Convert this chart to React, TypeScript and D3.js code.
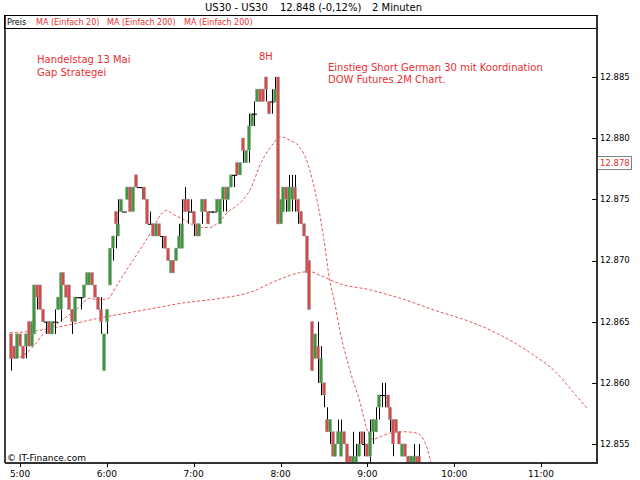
import React from 'react';
import * as d3 from 'd3';

// [time, open, high, low, close]
const bars: [string, number, number, number, number][] = [
  ["4:54",12.864,12.864,12.861,12.862],
  ["4:56",12.863,12.863,12.862,12.862],
  ["4:58",12.862,12.864,12.862,12.864],
  ["5:00",12.864,12.864,12.863,12.863],
  ["5:02",12.863,12.863,12.862,12.862],
  ["5:04",12.863,12.864,12.862,12.864],
  ["5:06",12.865,12.865,12.863,12.863],
  ["5:08",12.863,12.865,12.863,12.865],
  ["5:10",12.864,12.868,12.864,12.868],
  ["5:12",12.868,12.868,12.866,12.867],
  ["5:14",12.868,12.868,12.866,12.866],
  ["5:16",12.866,12.866,12.865,12.865],
  ["5:18",12.865,12.865,12.864,12.865],
  ["5:20",12.865,12.865,12.864,12.864],
  ["5:22",12.864,12.865,12.864,12.865],
  ["5:24",12.865,12.866,12.864,12.865],
  ["5:26",12.866,12.867,12.866,12.867],
  ["5:28",12.866,12.869,12.865,12.869],
  ["5:30",12.869,12.869,12.868,12.868],
  ["5:32",12.868,12.868,12.867,12.867],
  ["5:34",12.868,12.868,12.866,12.866],
  ["5:36",12.866,12.866,12.864,12.865],
  ["5:38",12.865,12.867,12.865,12.867],
  ["5:40",12.867,12.867,12.867,12.867],
  ["5:42",12.867,12.867,12.866,12.867],
  ["5:44",12.867,12.868,12.867,12.868],
  ["5:46",12.868,12.869,12.868,12.869],
  ["5:48",12.868,12.869,12.868,12.869],
  ["5:50",12.869,12.869,12.868,12.868],
  ["5:52",12.868,12.868,12.867,12.867],
  ["5:54",12.867,12.867,12.866,12.866],
  ["5:56",12.866,12.867,12.864,12.865],
  ["5:58",12.861,12.864,12.861,12.864],
  ["6:00",12.865,12.866,12.864,12.866],
  ["6:02",12.868,12.871,12.868,12.871],
  ["6:04",12.871,12.872,12.870,12.872],
  ["6:06",12.874,12.874,12.871,12.873],
  ["6:08",12.872,12.875,12.872,12.873],
  ["6:10",12.874,12.875,12.874,12.875],
  ["6:12",12.874,12.874,12.874,12.874],
  ["6:14",12.875,12.876,12.875,12.876],
  ["6:16",12.876,12.876,12.874,12.874],
  ["6:18",12.874,12.876,12.874,12.876],
  ["6:20",12.877,12.877,12.876,12.876],
  ["6:22",12.876,12.876,12.876,12.876],
  ["6:24",12.876,12.876,12.875,12.876],
  ["6:26",12.876,12.876,12.875,12.875],
  ["6:28",12.875,12.875,12.873,12.873],
  ["6:30",12.873,12.874,12.873,12.873],
  ["6:32",12.873,12.873,12.872,12.872],
  ["6:34",12.872,12.873,12.872,12.873],
  ["6:36",12.873,12.873,12.872,12.872],
  ["6:38",12.872,12.872,12.871,12.872],
  ["6:40",12.872,12.872,12.871,12.871],
  ["6:42",12.871,12.871,12.870,12.870],
  ["6:44",12.869,12.870,12.869,12.870],
  ["6:46",12.870,12.870,12.869,12.869],
  ["6:48",12.870,12.871,12.870,12.871],
  ["6:50",12.871,12.873,12.871,12.872],
  ["6:52",12.871,12.875,12.871,12.873],
  ["6:54",12.875,12.876,12.874,12.874],
  ["6:56",12.875,12.875,12.873,12.874],
  ["6:58",12.874,12.875,12.874,12.874],
  ["7:00",12.874,12.874,12.872,12.873],
  ["7:02",12.873,12.873,12.872,12.872],
  ["7:04",12.872,12.873,12.872,12.873],
  ["7:06",12.874,12.875,12.873,12.875],
  ["7:08",12.875,12.875,12.874,12.874],
  ["7:10",12.874,12.874,12.873,12.873],
  ["7:12",12.874,12.874,12.874,12.874],
  ["7:14",12.874,12.874,12.874,12.874],
  ["7:16",12.874,12.875,12.874,12.875],
  ["7:18",12.873,12.875,12.873,12.875],
  ["7:20",12.875,12.876,12.874,12.876],
  ["7:22",12.876,12.876,12.874,12.875],
  ["7:24",12.875,12.876,12.875,12.876],
  ["7:26",12.876,12.877,12.876,12.877],
  ["7:28",12.877,12.877,12.876,12.877],
  ["7:30",12.878,12.878,12.877,12.877],
  ["7:32",12.877,12.878,12.877,12.878],
  ["7:34",12.880,12.880,12.878,12.879],
  ["7:36",12.878,12.879,12.878,12.879],
  ["7:38",12.879,12.882,12.878,12.881],
  ["7:40",12.881,12.882,12.881,12.882],
  ["7:42",12.882,12.883,12.881,12.882],
  ["7:44",12.883,12.884,12.883,12.884],
  ["7:46",12.884,12.884,12.883,12.883],
  ["7:48",12.884,12.884,12.883,12.883],
  ["7:50",12.885,12.885,12.883,12.884],
  ["7:52",12.883,12.883,12.882,12.882],
  ["7:54",12.883,12.884,12.882,12.883],
  ["7:56",12.883,12.885,12.883,12.884],
  ["7:58",12.885,12.885,12.873,12.873],
  ["8:00",12.873,12.875,12.873,12.875],
  ["8:02",12.874,12.876,12.874,12.876],
  ["8:04",12.876,12.876,12.874,12.875],
  ["8:06",12.874,12.877,12.874,12.876],
  ["8:08",12.875,12.877,12.874,12.876],
  ["8:10",12.876,12.877,12.874,12.875],
  ["8:12",12.875,12.875,12.873,12.874],
  ["8:14",12.874,12.874,12.873,12.873],
  ["8:16",12.873,12.873,12.872,12.872],
  ["8:18",12.872,12.872,12.869,12.869],
  ["8:20",12.870,12.870,12.866,12.866],
  ["8:22",12.865,12.865,12.861,12.861],
  ["8:24",12.862,12.864,12.862,12.864],
  ["8:26",12.863,12.865,12.860,12.862],
  ["8:28",12.860,12.863,12.859,12.862],
  ["8:30",12.860,12.860,12.858,12.859],
  ["8:32",12.857,12.858,12.856,12.856],
  ["8:34",12.856,12.857,12.855,12.857],
  ["8:36",12.856,12.856,12.854,12.854],
  ["8:38",12.854,12.855,12.854,12.855],
  ["8:40",12.855,12.857,12.855,12.856],
  ["8:42",12.854,12.857,12.854,12.856],
  ["8:44",12.856,12.856,12.855,12.855],
  ["8:46",12.855,12.855,12.853,12.853],
  ["8:48",12.854,12.854,12.853,12.853],
  ["8:50",12.853,12.856,12.853,12.854],
  ["8:52",12.853,12.855,12.853,12.854],
  ["8:54",12.854,12.856,12.854,12.855],
  ["8:56",12.856,12.856,12.855,12.855],
  ["8:58",12.855,12.856,12.854,12.855],
  ["9:00",12.855,12.855,12.854,12.854],
  ["9:02",12.854,12.857,12.853,12.856],
  ["9:04",12.856,12.857,12.855,12.857],
  ["9:06",12.856,12.858,12.856,12.857],
  ["9:08",12.858,12.859,12.857,12.859],
  ["9:10",12.859,12.860,12.858,12.859],
  ["9:12",12.859,12.860,12.858,12.859],
  ["9:14",12.859,12.859,12.858,12.858],
  ["9:16",12.858,12.858,12.856,12.857],
  ["9:18",12.857,12.857,12.854,12.855],
  ["9:20",12.857,12.857,12.856,12.856],
  ["9:22",12.856,12.856,12.855,12.855],
  ["9:24",12.854,12.855,12.854,12.855],
  ["9:26",12.855,12.855,12.854,12.854],
  ["9:28",12.854,12.854,12.853,12.853],
  ["9:30",12.853,12.854,12.853,12.854],
  ["9:32",12.853,12.855,12.853,12.854],
  ["9:34",12.854,12.854,12.853,12.853],
  ["9:36",12.854,12.855,12.853,12.853],
];

const ma20: [string, number][] = [
  ["4:53",12.8620],["5:00",12.8621],["5:05",12.8625],["5:10",12.8631],["5:17",12.8641],
  ["5:24",12.8647],["5:31",12.8653],["5:40",12.8661],["5:48",12.8669],["5:55",12.8668],
  ["6:01",12.8669],["6:06",12.8678],["6:13",12.8691],["6:18",12.8700],["6:23",12.8709],
  ["6:30",12.8722],["6:37",12.8737],["6:41",12.8741],["6:47",12.8737],["6:54",12.8733],
  ["7:04",12.8727],["7:11",12.8727],["7:17",12.8731],["7:24",12.8740],["7:30",12.8745],
  ["7:39",12.8758],["7:47",12.8781],["7:54",12.8794],["8:00",12.8801],["8:07",12.8798],
  ["8:13",12.8793],["8:18",12.8782],["8:22",12.8766],["8:26",12.8745],["8:30",12.8717],
  ["8:34",12.8684],["8:37",12.8668],["8:41",12.8643],["8:48",12.8610],["8:55",12.8584],
  ["9:00",12.8561],["9:04",12.8554],["9:09",12.8556],["9:16",12.8559],["9:25",12.8560],
  ["9:34",12.8559],["9:40",12.8551],["9:44",12.8534],
];

const ma200: [string, number][] = [
  ["4:53",12.8641],["5:07",12.8642],["5:28",12.8646],["5:55",12.8653],["6:23",12.8659],
  ["6:37",12.8662],["6:51",12.8665],["7:18",12.8669],["7:39",12.8674],["7:58",12.8684],
  ["8:07",12.8688],["8:13",12.8690],["8:20",12.8691],["8:27",12.8688],["8:41",12.8681],
  ["9:02",12.8676],["9:23",12.8669],["9:50",12.8658],["10:11",12.8650],["10:32",12.8639],
  ["10:52",12.8625],["11:10",12.8609],["11:24",12.8590],["11:32",12.8579],
];

const yTicks = [12.855, 12.86, 12.865, 12.87, 12.875, 12.88, 12.885];
const xTicks = ["5:00", "6:00", "7:00", "8:00", "9:00", "10:00", "11:00"];
const lastPrice = 12.878;
const legendItems = ["MA (Einfach 20)", "MA (Einfach 200)", "MA (Einfach 200)"];

const toMin = (s: string) => {
  const [h, m] = s.split(':').map(Number);
  return h * 60 + m;
};

const FONT = 'DejaVu Sans';
const RED = '#e83030';

export default function App() {
  const L = 5, R = 597, TOP = 16, LEG = 29, BOT = 463;
  const x = d3.scaleLinear().domain([300, 660]).range([20, 541]);
  const y = d3.scaleLinear().domain([12.855, 12.885]).range([444, 77]);
  const line = d3.line<[string, number]>()
    .x(d => x(toMin(d[0])))
    .y(d => y(d[1]))
    .curve(d3.curveMonotoneX);

  return (
    <svg width={640} height={480} style={{ position: 'absolute', left: 0, top: 0, background: '#fff' }}
      fontFamily={FONT}>
      <defs>
        <clipPath id="plot">
          <rect x={L + 1} y={LEG} width={R - L - 2} height={BOT - LEG} />
        </clipPath>
      </defs>
      <rect x={0} y={0} width={640} height={480} fill="#fff" />
      {/* title */}
      <text x={205} y={11} fontSize={10} fill="#000">US30 - US30</text>
      <text x={280} y={11} fontSize={10} fill="#000">12.848 (-0,12%)</text>
      <text x={372} y={11} fontSize={10} fill="#000">2 Minuten</text>

      {/* legend row */}
      <rect x={L - 0.5} y={TOP - 0.5} width={R - L + 1} height={LEG - TOP} fill="none" stroke="#000" />
      <text x={7} y={25} fontSize={8} fill="#000">Preis</text>
      {legendItems.map((t, i) => (
        <text key={i} x={[36, 107, 184][i]} y={25} fontSize={8} fill={RED}>{t}</text>
      ))}

      {/* frame */}
      <line x1={L} y1={TOP} x2={L} y2={BOT} stroke="#000" strokeWidth={1.5} />

      <g clipPath="url(#plot)">
        <path d={line(ma200) || ''} fill="none" stroke="#e85858" strokeWidth={1} strokeDasharray="3,2" />
        <path d={line(ma20) || ''} fill="none" stroke="#e85858" strokeWidth={1} strokeDasharray="3,2" />
        {bars.map(([t, o, h, l, c], i) => {
          const cx = Math.round(x(toMin(t)));
          const yt = y(Math.max(o, c));
          const yb = y(Math.min(o, c));
          const up = c > o;
          const down = c < o;
          return (
            <g key={i}>
              <line x1={cx + 0.5} x2={cx + 0.5} y1={y(h)} y2={y(l)} stroke="#000" strokeWidth={1} />
              {up || down ? (
                <rect x={cx - 1.5} y={yt} width={3} height={Math.max(1, yb - yt)}
                  fill={up ? '#3a9a3a' : '#d84a4a'} stroke="#999" strokeWidth={1} strokeDasharray="1,1" />
              ) : (
                <line x1={cx - 2} x2={cx + 3} y1={yt + 0.5} y2={yt + 0.5} stroke="#000" strokeWidth={1} />
              )}
            </g>
          );
        })}
      </g>

      {/* annotations */}
      <text x={37} y={63} fontSize={10} fill={RED}>Handelstag 13 Mai</text>
      <text x={37} y={76} fontSize={10} fill={RED}>Gap Strategei</text>
      <text x={259} y={60} fontSize={10} fill={RED}>8H</text>
      <text x={328} y={71} fontSize={10} fill={RED}>Einstieg Short German 30 mit Koordination</text>
      <text x={328} y={83} fontSize={10} fill={RED}>DOW Futures 2M Chart.</text>

      {/* axes */}
      <line x1={R} y1={TOP} x2={R} y2={BOT + 1} stroke="#333" strokeWidth={2} />
      <line x1={L} y1={BOT} x2={R} y2={BOT} stroke="#333" strokeWidth={2} />
      {yTicks.map(v => (
        <g key={v}>
          <line x1={R - 5} x2={R} y1={Math.round(y(v)) + 0.5} y2={Math.round(y(v)) + 0.5} stroke="#000" />
          <text x={600} y={y(v)} dy="0.35em" fontSize={8.5} fill="#000">{d3.format('.3f')(v)}</text>
        </g>
      ))}
      <rect x={597.5} y={Math.round(y(lastPrice)) - 6.5} width={34} height={13} fill="#fff" stroke="#000"
        strokeDasharray="1,1" />
      <text x={600} y={y(lastPrice)} dy="0.35em" fontSize={8.5} fill={RED}>{d3.format('.3f')(lastPrice)}</text>

      {xTicks.map(t => (
        <g key={t}>
          <line x1={Math.round(x(toMin(t))) + 0.5} x2={Math.round(x(toMin(t))) + 0.5} y1={BOT} y2={BOT + 4} stroke="#000" />
          <text x={x(toMin(t))} y={477} fontSize={9} textAnchor="middle" fill="#000">{t}</text>
        </g>
      ))}
      <text x={7} y={461} fontSize={9} fill="#000">© IT-Finance.com</text>
    </svg>
  );
}
